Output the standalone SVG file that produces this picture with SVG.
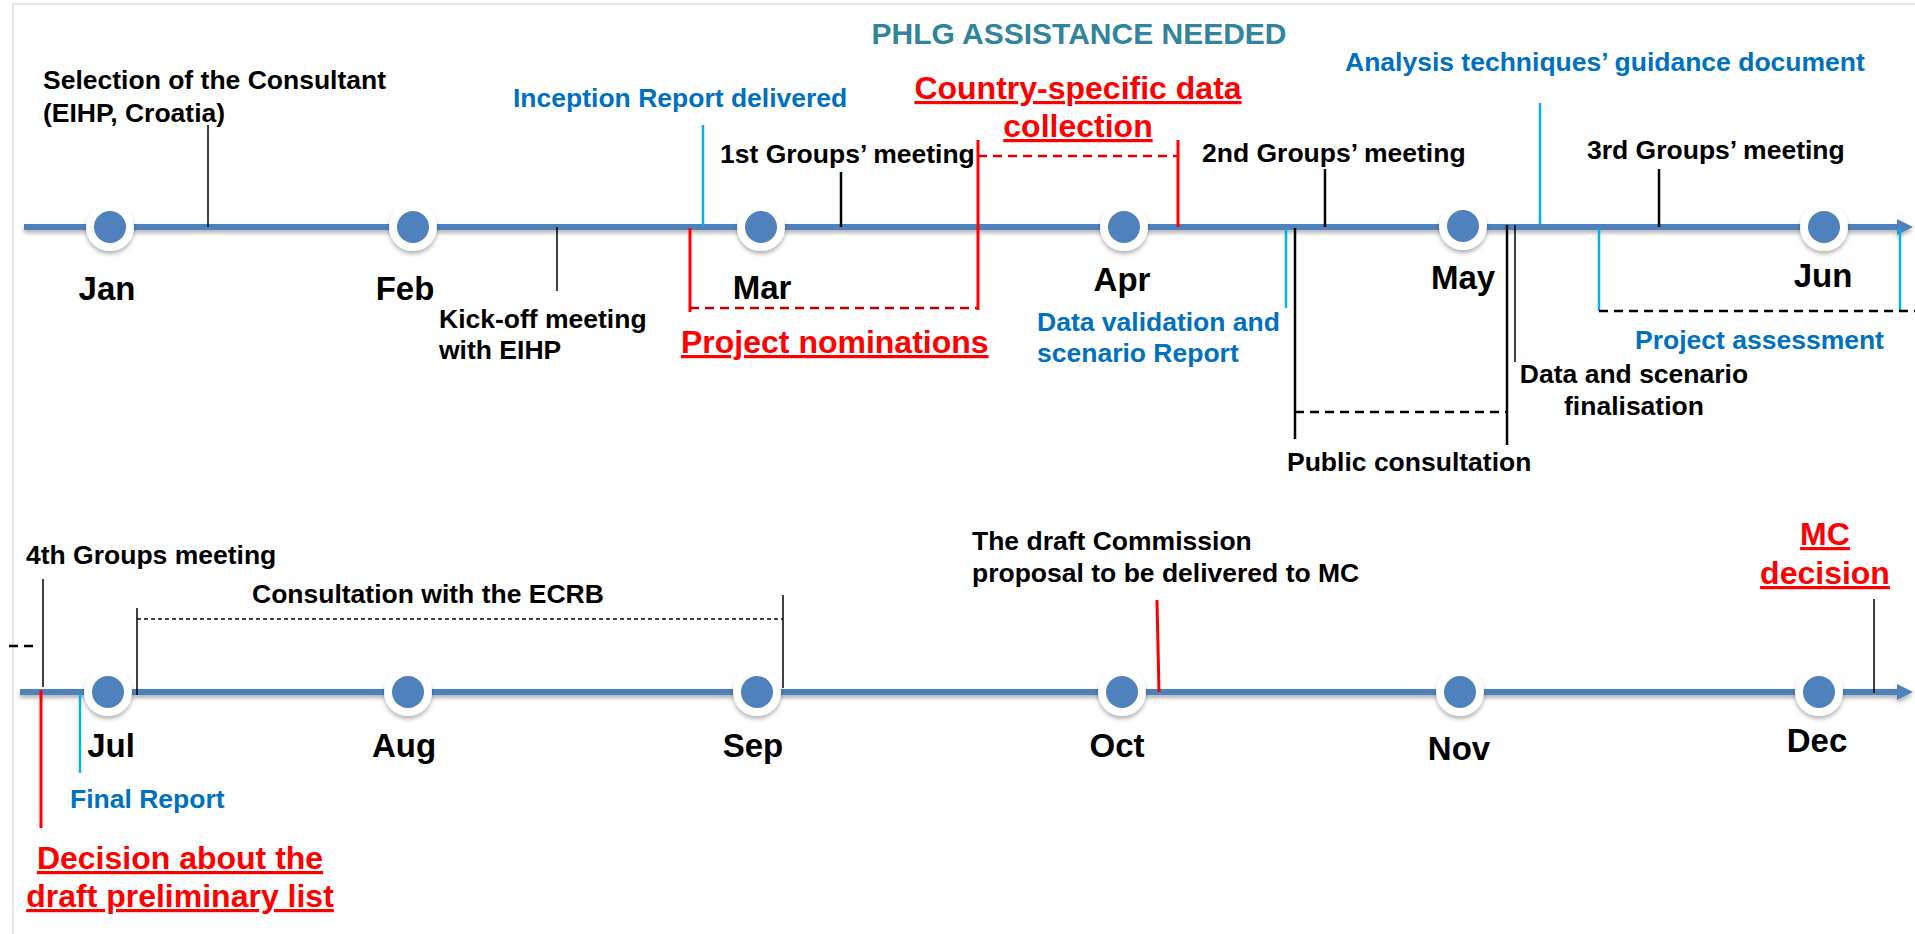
<svg xmlns="http://www.w3.org/2000/svg" width="1915" height="934" viewBox="0 0 1915 934">
<defs>
<style>
text{font-family:"Liberation Sans",Arial,sans-serif;font-weight:bold}
.lbl{font-size:26.5px;fill:#000}
.blu{font-size:26.5px;fill:#0070c0}
.red{font-size:32px;fill:#ff0000;text-decoration:underline}
.mon{font-size:33px;fill:#000;text-anchor:middle}
.ttl{font-size:30px;fill:#31849b;text-anchor:middle}
.tl{stroke:#4f81bd;stroke-width:6;fill:none}
.tk{stroke:#000;stroke-width:2.5;fill:none}
.tn{stroke:#000;stroke-width:1.5;fill:none}
.cy{stroke:#00b0f0;stroke-width:2.5;fill:none}
.rd{stroke:#ff0000;stroke-width:3;fill:none}
.dsh{stroke:#000;stroke-width:2.5;stroke-dasharray:9,6;fill:none}
.dot{stroke:#000;stroke-width:1.5;stroke-dasharray:4,3;fill:none}
.rdsh{stroke:#c00000;stroke-width:2.5;stroke-dasharray:9,6;fill:none}
.rdsh2{stroke:#e00000;stroke-width:2.5;stroke-dasharray:9,6;fill:none}
.ring{fill:#fff}
.dotc{fill:#4f81bd}
</style>
<filter id="sh" filterUnits="userSpaceOnUse" x="0" y="0" width="1915" height="934">
<feDropShadow dx="0" dy="3" stdDeviation="2" flood-color="#000" flood-opacity="0.3"/>
</filter>
<marker id="arr" viewBox="0 0 10 10" refX="0" refY="5" markerWidth="16" markerHeight="16" markerUnits="userSpaceOnUse" orient="auto">
<path d="M0,0 L10,5 L0,10 z" fill="#4f81bd"/>
</marker>
</defs>
<rect width="1915" height="934" fill="#fff"/>
<path d="M13,934 V4 H1915" stroke="#e6e6e6" stroke-width="2" fill="none"/>

<g id="connectors">
<line class="tl" x1="24" y1="227" x2="1897" y2="227" marker-end="url(#arr)" filter="url(#sh)"/>
<line class="tl" x1="20" y1="692" x2="1897" y2="692" marker-end="url(#arr)" filter="url(#sh)"/>
<!-- top ticks -->
<line class="tn" x1="208" y1="125" x2="208" y2="227"/>
<line class="tn" x1="557" y1="227" x2="557" y2="291"/>
<line class="cy" x1="703" y1="125" x2="703" y2="227"/>
<line class="tk" x1="841" y1="172" x2="841" y2="227"/>
<line class="tk" x1="1325" y1="169" x2="1325" y2="227"/>
<line class="cy" x1="1540" y1="103" x2="1540" y2="224"/>
<line class="tk" x1="1659" y1="169" x2="1659" y2="227"/>
<!-- nominations / collection -->
<line class="rd" x1="690" y1="228" x2="690" y2="312"/>
<line class="rdsh" x1="690" y1="308" x2="978" y2="308"/>
<line class="rd" x1="978" y1="140" x2="978" y2="310"/>
<line class="rdsh2" x1="978" y1="156" x2="1178" y2="156"/>
<line class="rd" x1="1178" y1="140" x2="1178" y2="227"/>
<!-- data validation / public consultation -->
<line class="cy" x1="1286" y1="228" x2="1286" y2="308"/>
<line class="tk" x1="1295" y1="228" x2="1295" y2="439"/>
<line class="dsh" x1="1295" y1="412" x2="1507" y2="412"/>
<line class="tk" x1="1507" y1="225" x2="1507" y2="445"/>
<line class="tn" x1="1515" y1="225" x2="1515" y2="362"/>
<!-- project assessment -->
<line class="cy" x1="1599" y1="228" x2="1599" y2="311"/>
<line class="cy" x1="1900" y1="228" x2="1900" y2="311"/>
<line class="dsh" x1="1599" y1="311" x2="1915" y2="311"/>
<!-- bottom ticks -->
<line class="dsh" x1="9" y1="646" x2="37" y2="646"/>
<line class="tn" x1="43" y1="579" x2="43" y2="687"/>
<line class="rd" x1="41" y1="690" x2="41" y2="828"/>
<line class="cy" x1="80" y1="694" x2="80" y2="773"/>
<line class="tn" x1="137" y1="608" x2="137" y2="695"/>
<line class="dot" x1="137" y1="619" x2="783" y2="619"/>
<line class="tn" x1="783" y1="595" x2="783" y2="688"/>
<line class="rd" x1="1157" y1="600" x2="1159" y2="692"/>
<line class="tn" x1="1874" y1="599" x2="1874" y2="693"/>
</g>

<g id="title"><text class="ttl" x="1079" y="44">PHLG ASSISTANCE NEEDED</text></g>

<g id="m-jan"><circle class="ring" cx="110" cy="227" r="24" filter="url(#sh)"/><circle class="dotc" cx="110" cy="227" r="16"/><text class="mon" x="107" y="300">Jan</text></g>
<g id="m-feb"><circle class="ring" cx="413" cy="227" r="24" filter="url(#sh)"/><circle class="dotc" cx="413" cy="227" r="16"/><text class="mon" x="405" y="300">Feb</text></g>
<g id="m-mar"><circle class="ring" cx="761" cy="227" r="24" filter="url(#sh)"/><circle class="dotc" cx="761" cy="227" r="16"/><text class="mon" x="762" y="299">Mar</text></g>
<g id="m-apr"><circle class="ring" cx="1124" cy="227" r="24" filter="url(#sh)"/><circle class="dotc" cx="1124" cy="227" r="16"/><text class="mon" x="1122" y="291">Apr</text></g>
<g id="m-may"><circle class="ring" cx="1463" cy="226" r="24" filter="url(#sh)"/><circle class="dotc" cx="1463" cy="226" r="16"/><text class="mon" x="1463" y="289">May</text></g>
<g id="m-jun"><circle class="ring" cx="1824" cy="227" r="24" filter="url(#sh)"/><circle class="dotc" cx="1824" cy="227" r="16"/><text class="mon" x="1823" y="287">Jun</text></g>
<g id="m-jul"><circle class="ring" cx="108" cy="692" r="24" filter="url(#sh)"/><circle class="dotc" cx="108" cy="692" r="16"/><text class="mon" x="111" y="757">Jul</text></g>
<g id="m-aug"><circle class="ring" cx="408" cy="692" r="24" filter="url(#sh)"/><circle class="dotc" cx="408" cy="692" r="16"/><text class="mon" x="404" y="757">Aug</text></g>
<g id="m-sep"><circle class="ring" cx="757" cy="692" r="24" filter="url(#sh)"/><circle class="dotc" cx="757" cy="692" r="16"/><text class="mon" x="753" y="757">Sep</text></g>
<g id="m-oct"><circle class="ring" cx="1122" cy="692" r="24" filter="url(#sh)"/><circle class="dotc" cx="1122" cy="692" r="16"/><text class="mon" x="1117" y="757">Oct</text></g>
<g id="m-nov"><circle class="ring" cx="1460" cy="692" r="24" filter="url(#sh)"/><circle class="dotc" cx="1460" cy="692" r="16"/><text class="mon" x="1459" y="760">Nov</text></g>
<g id="m-dec"><circle class="ring" cx="1819" cy="692" r="24" filter="url(#sh)"/><circle class="dotc" cx="1819" cy="692" r="16"/><text class="mon" x="1817" y="752">Dec</text></g>

<g id="e-selection"><text class="lbl" x="43" y="89">Selection of the Consultant</text><text class="lbl" x="43" y="122">(EIHP, Croatia)</text></g>
<g id="e-kickoff"><text class="lbl" x="439" y="328">Kick-off meeting</text><text class="lbl" x="439" y="359">with EIHP</text></g>
<g id="e-inception"><text class="blu" x="513" y="107">Inception Report delivered</text></g>
<g id="e-g1"><text class="lbl" x="720" y="163">1st Groups’ meeting</text></g>
<g id="e-collection"><text class="red" x="1078" y="99" text-anchor="middle">Country-specific data</text><text class="red" x="1078" y="137" text-anchor="middle">collection</text></g>
<g id="e-nominations"><text class="red" x="681" y="353">Project nominations</text></g>
<g id="e-g2"><text class="lbl" x="1202" y="162">2nd Groups’ meeting</text></g>
<g id="e-validation"><text class="blu" x="1037" y="331">Data validation and</text><text class="blu" x="1037" y="362">scenario Report</text></g>
<g id="e-public"><text class="lbl" x="1287" y="471">Public consultation</text></g>
<g id="e-final-data"><text class="lbl" x="1634" y="383" text-anchor="middle">Data and scenario</text><text class="lbl" x="1634" y="415" text-anchor="middle">finalisation</text></g>
<g id="e-analysis"><text class="blu" x="1345" y="71">Analysis techniques’ guidance document</text></g>
<g id="e-g3"><text class="lbl" x="1587" y="159">3rd Groups’ meeting</text></g>
<g id="e-assessment"><text class="blu" x="1635" y="349">Project assessment</text></g>
<g id="e-g4"><text class="lbl" x="26" y="564">4th Groups meeting</text></g>
<g id="e-ecrb"><text class="lbl" x="252" y="603">Consultation with the ECRB</text></g>
<g id="e-finalreport"><text class="blu" x="70" y="808">Final Report</text></g>
<g id="e-decision"><text class="red" x="180" y="869" text-anchor="middle">Decision about the</text><text class="red" x="180" y="907" text-anchor="middle">draft preliminary list</text></g>
<g id="e-commission"><text class="lbl" x="972" y="550">The draft Commission</text><text class="lbl" x="972" y="582">proposal to be delivered to MC</text></g>
<g id="e-mc"><text class="red" x="1825" y="545" text-anchor="middle">MC</text><text class="red" x="1825" y="584" text-anchor="middle">decision</text></g>
</svg>
